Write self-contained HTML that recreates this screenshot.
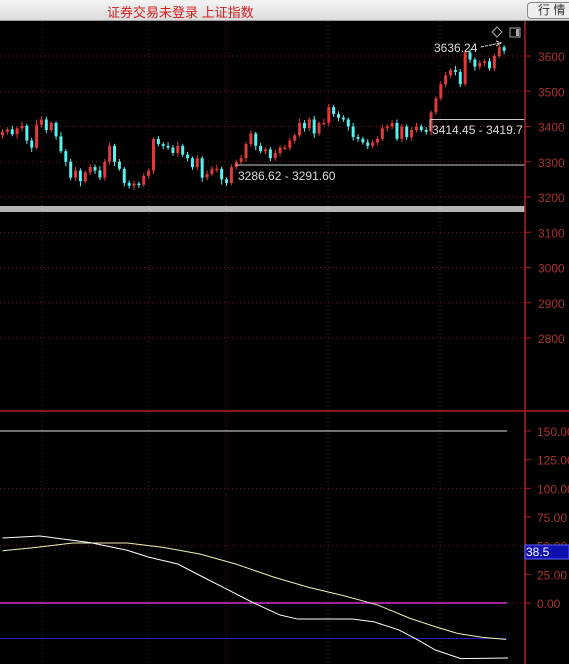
<!DOCTYPE html>
<html><head><meta charset="utf-8">
<style>
html,body{margin:0;padding:0;background:#000;}
body{width:569px;height:664px;overflow:hidden;position:relative;font-family:"Liberation Sans","Noto Sans CJK SC",sans-serif;}
#topbar{position:absolute;left:0;top:0;width:569px;height:20px;background:linear-gradient(#f4f4f4,#dcdcdc);border-bottom:1px solid #999;}
#title{position:absolute;left:107px;top:2px;color:#d02020;font-size:13px;}
#btn{position:absolute;left:527px;top:2px;width:44px;height:15px;border:1px solid #888;border-radius:4px;background:#eee;font-size:12px;color:#333;line-height:15px;text-indent:10px;}
svg{position:absolute;left:0;top:21px;}
</style></head><body>
<div id="topbar">
  <div id="title">证券交易未登录 上证指数</div>
  <div id="btn">行 情</div>
</div>
<svg id="chart" width="569" height="643"></svg>
<script>
const closes=[3385,3392,3378,3395,3402,3360,3340,3405,3420,3390,3410,
3372,3330,3300,3255,3275,3245,
3270,3285,3275,3255,3300,
3345,3300,3280,
3240,3232,3238,3235,3260,
3275,
3365,3350,
3345,3340,3325,3345,3320,3310,3285,3310,
3255,3265,3280,3280,3250,3240,
3285,3300,
3310,3350,3380,3345,
3330,3335,3310,3325,
3340,3340,3360,3375,
3410,3395,3420,
3380,3410,
3410,3455,
3435,3425,3420,3400,
3370,3365,3355,
3345,3355,3365,
3395,3400,3410,
3365,
3400,3370,3390,
3400,3390,3385,
3440,
3480,3520,3545,3560,
3555,3520,
3610,
3590,3570,
3580,3585,3565,3600,
3625,
3615];
const wickUp=[8,6,10,5,12,6,8,15,10,8,6,5,12,6,8,10,6,5,9,7,12,8,10,6,8,5,7,9,6,8,6,4,8,6,10,7,12,6,8,5,9,6,10,8,12,6,5,8,6,10,7,9,5,8,6,7,10,6,8,9,5,12,8,6,10,5,12,9,6,8,7,5,10,8,6,9,7,8,10,6,8,10,7,6,8,10,6,8,5,6,8,10,6,12,8,5,10,6,8,7,9,6,8,6];
const wickDn=[10,8,6,12,8,10,12,6,8,10,7,9,6,12,8,10,15,6,8,10,7,9,8,12,6,10,8,12,9,6,8,10,7,9,6,8,10,7,9,8,10,12,8,6,10,15,9,7,8,6,10,8,12,6,9,8,7,10,6,9,8,6,10,8,12,7,6,9,8,10,7,12,10,8,6,9,7,8,6,10,8,6,9,8,10,7,6,8,10,8,6,9,7,10,8,6,9,12,8,10,6,8,6,10];
const whiteIdx=[0,7.7,18,25.6,30,36,41,45.7,51.6,57,60.6,66.5,71.8,76.2,81.4,85.2,88.9,94.1,103.8];
const whiteVal=[56.7,58.4,52.6,46,40,34,23,12.8,0,-10.5,-14,-14,-14,-16.3,-23.5,-32,-41,-48.5,-48];
const yellowIdx=[0,7,14.4,25.6,33,40.5,47.9,55.4,62.8,70.3,77,83.7,88.9,93.4,98.6,103.4];
const yellowVal=[45.6,48.5,52.3,52.3,48.5,42.7,34,23,13.7,6.1,-1.7,-13.4,-20.7,-26.5,-30,-31.7];
const priceTicks=[3600,3500,3400,3300,3200,3100,3000,2900,2800];
const oscTicks=[150,125,100,75,50,25,0];

const svg=document.getElementById('chart');
const NS='http://www.w3.org/2000/svg';
const OY=21;
function py(p){return 56+(3600-p)*0.3525-OY;}
function oy(v){return 603-v*1.147-OY;}
function xi(i){return 2.5+4.87*i;}
function mk(tag,attrs,name,parent){const e=document.createElementNS(NS,tag);for(const k in attrs)e.setAttribute(k,attrs[k]);
 
 
 (parent||svg).appendChild(e);return e;}
const grid='#7a1a1a';
[42,149,226,328,440].forEach(x=>{mk('line',{x1:x,y1:0,x2:x,y2:643,stroke:grid,'stroke-dasharray':'1,3'},'v-grid-line');});
priceTicks.forEach(t=>{const y=py(t);
 mk('line',{x1:0,y1:y,x2:525,y2:y,stroke:grid,'stroke-dasharray':'1,3'},'price-grid-line');
 mk('line',{x1:525,y1:y,x2:531,y2:y,stroke:'#a02020'},'price-tick');
 const t2=mk('text',{x:538,y:y+5,fill:'#a83232','font-size':12,'font-family':'Liberation Sans'},'price-tick-label');t2.textContent=t;});
[100,50,0].forEach(v=>{const y=oy(v);mk('line',{x1:0,y1:y,x2:525,y2:y,stroke:grid,'stroke-dasharray':'1,3'},'osc-grid-line');});
oscTicks.forEach(t=>{const y=oy(t);
 mk('line',{x1:525,y1:y,x2:531,y2:y,stroke:'#a02020'},'osc-tick');
 const t2=mk('text',{x:537,y:y+5,fill:'#a83232','font-size':12,'font-family':'Liberation Sans'},'osc-tick-label');t2.textContent=t.toFixed(2);});
mk('rect',{x:0,y:206-OY,width:525,height:6,fill:'#b4b4b4'},'volume-separator');
closes.forEach((c,i)=>{const o=i===0?c-10:closes[i-1];const x=xi(i);
 const up=c>=o;const col=up?'#e03a3a':'#58f0f0';
 const hi=Math.max(o,c)+wickUp[i],lo=Math.min(o,c)-wickDn[i];
 mk('line',{x1:x,y1:py(hi),x2:x,y2:py(lo),stroke:col,'stroke-width':1},'candle-wick');
 const t=py(Math.max(o,c)),b=py(Math.min(o,c));
 mk('rect',{x:x-1.5,y:t,width:3,height:Math.max(1.5,b-t),fill:col},up?'candle-up':'candle-down');});
mk('line',{x1:236,y1:165-OY,x2:525,y2:165-OY,stroke:'#ccc'},'low-range-line');
let a=mk('text',{x:238,y:180-OY,fill:'#ddd','font-size':12},'low-range-label');a.textContent='3286.62 - 3291.60';
mk('line',{x1:430,y1:119.5-OY,x2:525,y2:119.5-OY,stroke:'#ccc'},'mid-range-line');
mk('line',{x1:430,y1:119.5-OY,x2:430,y2:131-OY,stroke:'#ccc'},'mid-range-tick');
a=mk('text',{x:432,y:134-OY,fill:'#ddd','font-size':12},'mid-range-label');a.textContent='3414.45 - 3419.7';
a=mk('text',{x:434,y:52-OY,fill:'#ddd','font-size':12},'high-label');a.textContent='3636.24';
mk('path',{d:`M481,${47-OY} L500,${43-OY} M496,${41-OY} L501,${43-OY} L496,${46-OY}`,stroke:'#ddd',fill:'none','stroke-dasharray':'3,1'},'high-arrow');
mk('path',{d:`M497,${27-OY} L502,${32-OY} L497,${37-OY} L492,${32-OY} Z`,stroke:'#aaa',fill:'none'},'diamond-icon');
mk('rect',{x:510,y:28-OY,width:10,height:9,stroke:'#aaa',fill:'none'},'panel-icon');
mk('rect',{x:516,y:29-OY,width:3,height:7,fill:'#aaa'},'panel-icon-fill');
mk('line',{x1:0,y1:oy(150),x2:507,y2:oy(150),stroke:'#e0e0e0'},'upper-ref-line');
mk('line',{x1:0,y1:oy(0),x2:507,y2:oy(0),stroke:'#d030d0','stroke-width':1.5},'zero-line');
mk('line',{x1:0,y1:oy(-31),x2:507,y2:oy(-31),stroke:'#2020c0'},'lower-ref-line');
function pl(idx,val,col,name){mk('polyline',{points:idx.map((d,k)=>xi(d)+','+oy(val[k])).join(' '),stroke:col,fill:'none','stroke-width':1},name);}
pl(yellowIdx,yellowVal,'#f0f0b0','slow-line');
pl(whiteIdx,whiteVal,'#ffffff','fast-line');
mk('line',{x1:525,y1:0,x2:525,y2:643,stroke:'#b02020','stroke-width':1.5},'y-axis-line');
mk('line',{x1:0,y1:411-OY,x2:569,y2:411-OY,stroke:'#b02020','stroke-width':1.5},'panel-divider');
mk('rect',{x:525,y:545-OY,width:44,height:14,fill:'#1010b0',stroke:'#6060ff'},'value-badge');
a=mk('text',{x:526,y:556-OY,fill:'#fff','font-size':12},'value-badge-text');a.textContent='38.5';
</script>
</body></html>
